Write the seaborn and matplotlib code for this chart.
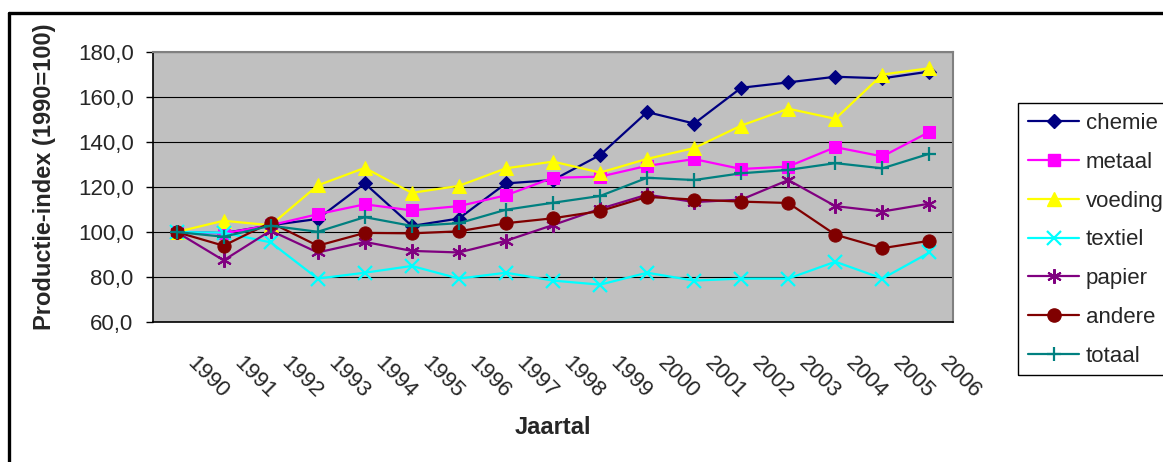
import matplotlib
matplotlib.use("Agg")
import matplotlib.pyplot as plt
import matplotlib.transforms as mtransforms
from matplotlib.lines import Line2D
from matplotlib.patches import Rectangle
from matplotlib.ticker import FixedLocator, FuncFormatter
import numpy as np
import pandas as pd
import seaborn as sns

# ----------------------------
# Data
# ----------------------------
years = ["1990", "1991", "1992", "1993", "1994", "1995", "1996", "1997", "1998",
         "1999", "2000", "2001", "2002", "2003", "2004", "2005", "2006"]

chemie = [100.0, 99.5, 103.0, 105.8, 121.6, 102.7, 106.0, 121.6, 123.1, 134.2,
          153.3, 148.2, 164.1, 166.5, 169.0, 168.3, 171.3]
metaal = [100.0, 99.4, 103.0, 107.9, 112.3, 109.6, 111.5, 116.3, 124.1, 124.6,
          129.4, 132.4, 128.0, 129.1, 137.7, 133.6, 144.5]
voeding = [100.0, 105.0, 103.0, 120.7, 128.5, 117.4, 120.5, 128.3, 131.3, 126.4,
           132.5, 137.3, 147.3, 154.8, 150.3, 170.0, 172.8]
textiel = [100.0, 99.7, 95.4, 79.3, 81.9, 84.9, 79.3, 81.9, 78.4, 76.6,
           81.9, 78.4, 79.3, 79.3, 86.8, 79.3, 90.9]
papier = [100.0, 87.4, 100.6, 90.9, 95.6, 91.6, 90.9, 96.1, 103.1, 110.3,
          116.6, 113.3, 114.4, 123.1, 111.5, 109.1, 112.6]
andere = [100.0, 93.9, 104.2, 93.9, 99.6, 99.4, 100.3, 103.9, 106.1, 109.3,
          115.6, 114.4, 113.5, 112.9, 98.8, 92.8, 96.1]
totaal = [100.0, 97.9, 102.8, 100.1, 106.6, 102.7, 103.9, 109.9, 113.0, 116.0,
          124.1, 123.1, 126.1, 127.6, 130.6, 128.3, 134.8]

series_names = ["chemie", "metaal", "voeding", "textiel", "papier", "andere", "totaal"]
y_ticks = [60, 80, 100, 120, 140, 160, 180]

# ----------------------------
# Styles
# ----------------------------
styles = {
    "chemie":  dict(color="#000080", marker="D", markersize=7.5),
    "metaal":  dict(color="#FF00FF", marker="s", markersize=8.5),
    "voeding": dict(color="#FFFF00", marker="^", markersize=10),
    "textiel": dict(color="#00FFFF", marker="x", markersize=9.5, markeredgewidth=1.6),
    "papier":  dict(color="#800080", marker=(6, 2, 0), markersize=10.5, markeredgewidth=1.5),
    "andere":  dict(color="#800000", marker="o", markersize=9.5),
    "totaal":  dict(color="#008080", marker="+", markersize=10.5, markeredgewidth=1.6),
}

df = pd.DataFrame({"jaar": years, "chemie": chemie, "metaal": metaal,
                   "voeding": voeding, "textiel": textiel, "papier": papier,
                   "andere": andere, "totaal": totaal})
df["pos"] = np.arange(len(df))

sns.set_style("white")
plt.rcParams["font.family"] = ["Liberation Sans", "DejaVu Sans"]

fig = plt.figure(figsize=(11.63, 4.62), dpi=100)
ax = fig.add_axes([153 / 1163, 140 / 462, 800 / 1163, 270 / 462])
ax.set_facecolor("#C0C0C0")

handles = []
for name in series_names:
    st = styles[name]
    sns.lineplot(data=df, x="pos", y=name, ax=ax, linewidth=1.6,
                 markeredgecolor=st["color"], **st)
    handles.append(Line2D([], [], linewidth=1.6, markeredgecolor=st["color"], **st))

# axes
ax.set_xlim(-0.5, len(years) - 0.5)
ax.set_ylim(60, 180)
ax.set_xlabel("")
ax.set_ylabel("")

ax.yaxis.set_major_locator(FixedLocator(y_ticks))
ax.yaxis.set_major_formatter(FuncFormatter(lambda v, p: f"{v:.1f}".replace(".", ",")))
ax.grid(axis="y", color="black", linewidth=0.8)
ax.grid(axis="x", visible=False)

ax.set_xticks(np.arange(len(years)))
ax.set_xticklabels(years, rotation=-45, ha="left", va="top", rotation_mode="anchor")
ax.set_xticks(np.arange(-0.5, len(years), 1), minor=True)
ax.tick_params(axis="x", which="major", length=0, pad=22, labelsize=16)
ax.tick_params(axis="x", which="minor", length=5.5, width=1, color="black", direction="out")
ax.tick_params(axis="y", which="major", length=5, width=1, color="black",
               direction="out", pad=9, labelsize=16, left=True)

shift = mtransforms.ScaledTranslation(21 / 100, 0, fig.dpi_scale_trans)
for lab in ax.get_xticklabels():
    lab.set_transform(lab.get_transform() + shift)

for side in ["top", "right"]:
    ax.spines[side].set_color("#808080")
    ax.spines[side].set_linewidth(1.5)
for side in ["left", "bottom"]:
    ax.spines[side].set_color("black")
    ax.spines[side].set_linewidth(1.2)

# titles
fig.text(45 / 1163, 1 - 177 / 462, "Productie-index (1990=100)", rotation=90,
         ha="center", va="center", fontsize=17, fontweight="bold")
fig.text(553 / 1163, 1 - 428 / 462, "Jaartal", ha="center", va="center",
         fontsize=17, fontweight="bold")

# legend (box runs off the right edge, as in the original)
leg = fig.legend(handles, series_names, loc="upper left",
                 bbox_to_anchor=(1018 / 1163, 1 - 103 / 462), frameon=False,
                 fontsize=16, borderpad=0.45, labelspacing=0.8, handlelength=2.3,
                 handletextpad=0.3, borderaxespad=0)
fig.add_artist(Rectangle((1018 / 1163, 1 - 375 / 462), 200 / 1163, 272 / 462,
                         facecolor="none", edgecolor="black", linewidth=1,
                         transform=fig.transFigure))

# outer chart frame
fig.add_artist(Line2D([9 / 1163, 9 / 1163], [0, 1 - 13 / 462], color="black",
                      linewidth=2.4, transform=fig.transFigure))
fig.add_artist(Line2D([9 / 1163, 1], [1 - 13 / 462, 1 - 13 / 462], color="black",
                      linewidth=2.4, transform=fig.transFigure))

fig.savefig("out.png", dpi=100)
plt.close()
